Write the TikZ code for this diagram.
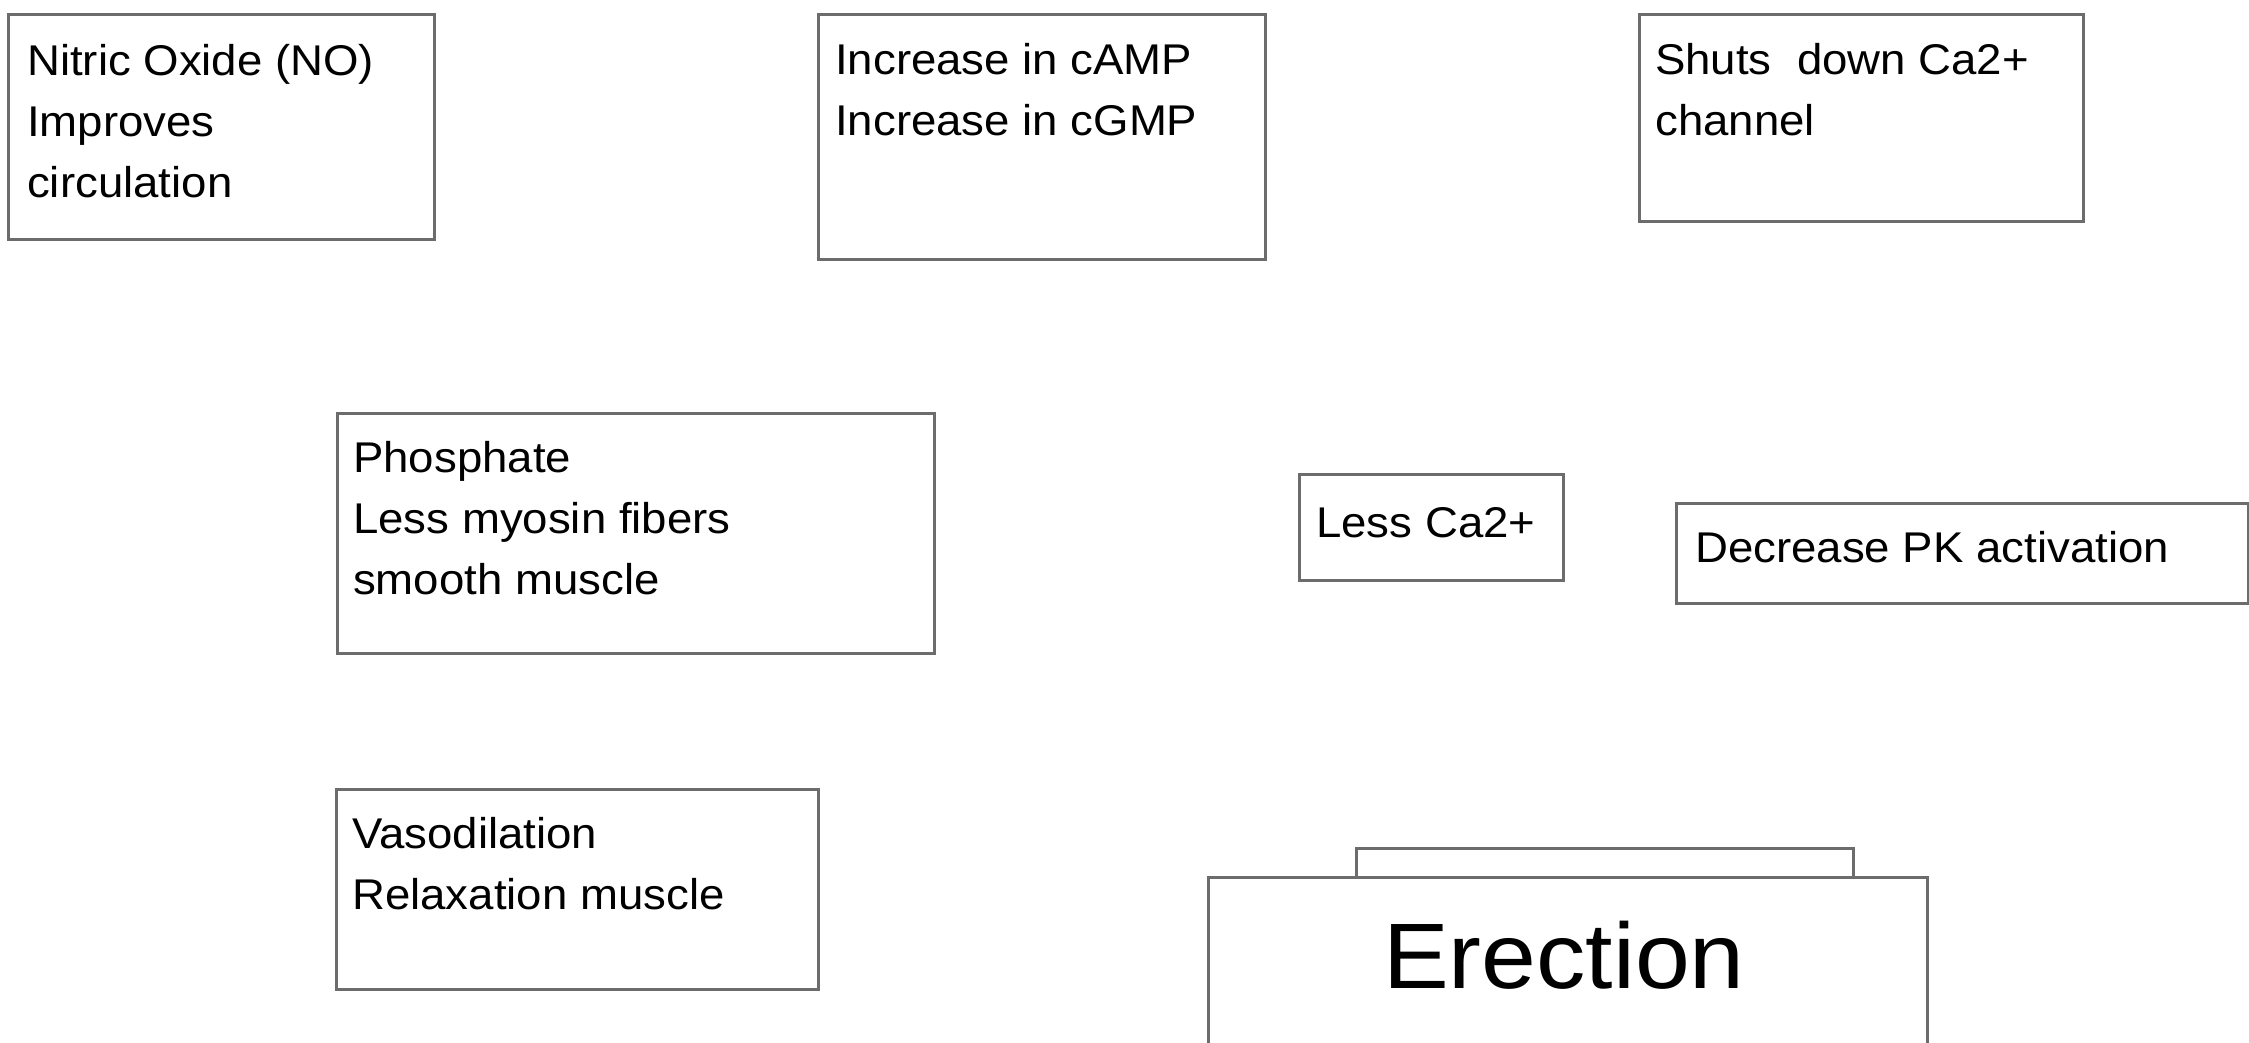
\documentclass[tikz,border=0pt]{standalone}
\usepackage{fontspec}
\setmainfont[FakeStretch=1.06]{Liberation Sans}
\usepackage{xcolor}
\usetikzlibrary{positioning}
\definecolor{edge}{RGB}{108,108,108}
\newcommand{\capline}{\rule{0pt}{40pt}}
\tikzset{
    box/.style={rectangle, draw=edge, line width=3pt, fill=white, anchor=north west, inner sep=0pt},
    txt/.style={anchor=north west, inner sep=0pt, align=left, font=\fontsize{43}{61}\selectfont},
    bigtxt/.style={anchor=north west, inner sep=0pt, font=\fontsize{93}{100}\selectfont}
}

\begin{document}
\begin{tikzpicture}[x=1pt, y=-1pt]
    \useasboundingbox (0,0) rectangle (2249,1043);
    \clip (0,0) rectangle (2249,1043);

    % Boxes
    \node[box, minimum width=426pt, minimum height=225pt] (no) at (7,13) {};
    \node[box, minimum width=447pt, minimum height=245pt] (camp) at (817,13) {};
    \node[box, minimum width=444pt, minimum height=207pt] (shut) at (1638,13) {};
    \node[box, minimum width=597pt, minimum height=240pt] (phos) at (336,412) {};
    \node[box, minimum width=264pt, minimum height=106pt] (lessca) at (1298,473) {};
    \node[box, minimum width=572pt, minimum height=100pt] (pk) at (1675,502) {};
    \node[box, minimum width=482pt, minimum height=200pt] (vaso) at (335,788) {};
    \node[box, minimum width=497pt, minimum height=29pt] (erecback) at (1355,847) {};
    \node[box, minimum width=719pt, minimum height=260pt] (erec) at (1207,876) {};

    % Texts
    \node[txt] (no-t) at (27,35) {\capline Nitric Oxide (NO)\\ Improves\\ circulation};
    \node[txt] (camp-t) at (835,34) {\capline Increase in cAMP\\ Increase in cGMP};
    \node[txt] (shut-t) at (1655,34) {\capline Shuts~~down Ca2+\\ channel};
    \node[txt] (phos-t) at (353,432) {\capline Phosphate\\ Less myosin fibers\\ smooth muscle};
    \node[txt] (lessca-t) at (1316,497) {\capline Less Ca2+};
    \node[txt] (pk-t) at (1695,522) {\capline Decrease PK activation};
    \node[txt] (vaso-t) at (352,808) {\capline Vasodilation\\ Relaxation muscle};
    \node[bigtxt] (erec-t) at (1383,908) {\rule{0pt}{80pt}Erection};
\end{tikzpicture}
\end{document}
